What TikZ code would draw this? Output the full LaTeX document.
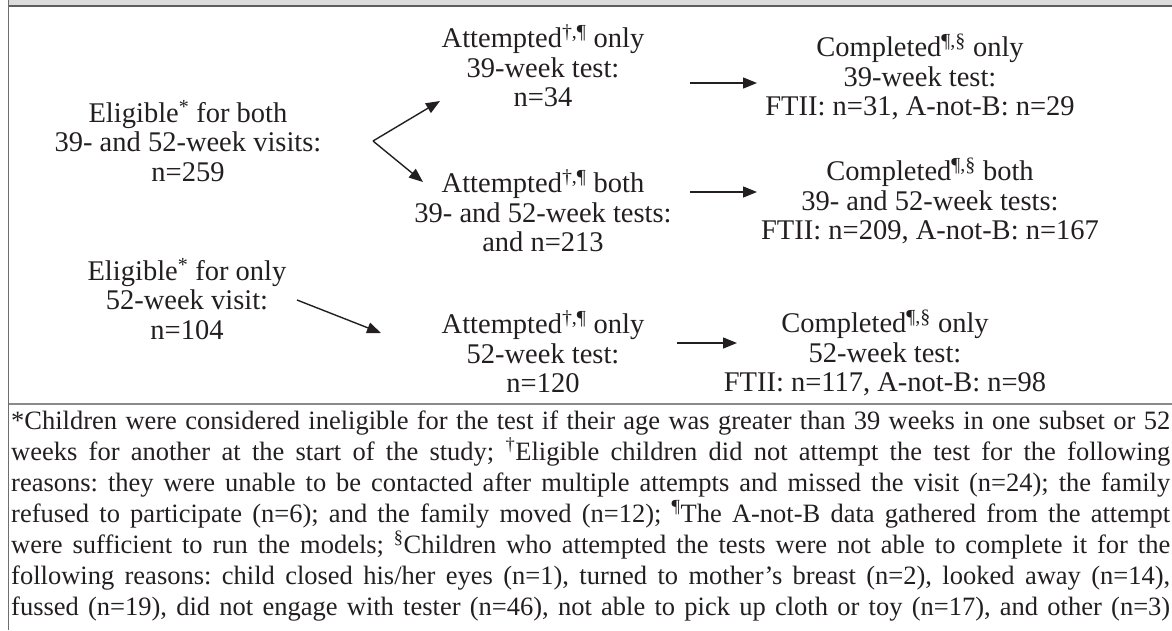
\documentclass[tikz,border=0pt]{standalone}
\usepackage{fontspec}
\setmainfont{Liberation Serif}
\usetikzlibrary{arrows.meta}
\frenchspacing
\definecolor{txt}{HTML}{231F20}
\definecolor{bandgray}{HTML}{DCDCDC}
\definecolor{darkline}{HTML}{5E5E5E}
\definecolor{framegray}{HTML}{6E6E6E}
\definecolor{sepgray}{HTML}{8A8A8A}
\begin{document}
\begin{tikzpicture}[x=1pt,y=-1pt,
  box/.style={align=center, inner sep=0pt, text=txt, font=\fontsize{28.5}{29.5}\selectfont},
  arr/.style={-{Triangle[length=14pt,width=11pt]}, line width=1.4pt, draw=txt}]
\useasboundingbox (0,0) rectangle (1172,630);
% frame
\fill[bandgray] (8.5,0) rectangle (1172,5);
\draw[line width=2pt, darkline] (8.5,5.8) -- (1172,5.8);
\draw[line width=1.5pt, framegray] (8.5,0) -- (8.5,630);
\draw[line width=2pt, sepgray] (8.5,403.5) -- (1172,403.5);
% nodes
\node[box] (e1) at (188,141) {Eligible\textsuperscript{*} for both\\39- and 52-week visits:\\n=259};
\node[box] (e2) at (187,299) {Eligible\textsuperscript{*} for only\\52-week visit:\\n=104};
\node[box] (a1) at (543,66) {Attempted\textsuperscript{†,¶} only\\39-week test:\\n=34};
\node[box] (a2) at (543,211) {Attempted\textsuperscript{†,¶} both\\39- and 52-week tests:\\and n=213};
\node[box] (a3) at (543,352) {Attempted\textsuperscript{†,¶} only\\52-week test:\\n=120};
\node[box] (c1) at (920,77) {Completed\textsuperscript{¶,§} only\\39-week test:\\FTII: n=31, A-not-B: n=29};
\node[box] (c2) at (930,201) {Completed\textsuperscript{¶,§} both\\39- and 52-week tests:\\FTII: n=209, A-not-B: n=167};
\node[box] (c3) at (885,353) {Completed\textsuperscript{¶,§} only\\52-week test:\\FTII: n=117, A-not-B: n=98};
% connector end points
\coordinate (fork) at (373,141);
\coordinate (a1in) at (440,101);
\coordinate (a2in) at (423,182);
\coordinate (e2out) at (297,300);
\coordinate (a3in) at (381,333);
\coordinate (a1out) at (690,83);
\coordinate (c1in) at (757,83);
\coordinate (a2out) at (690,192);
\coordinate (c2in) at (757,192);
\coordinate (a3out) at (677,343);
\coordinate (c3in) at (737,343);
\draw[arr] (fork) -- (a1in);
\draw[arr] (fork) -- (a2in);
\draw[arr] (e2out) -- (a3in);
\draw[arr] (a1out) -- (c1in);
\draw[arr] (a2out) -- (c2in);
\draw[arr] (a3out) -- (c3in);
% footnote
\node[anchor=base west, inner sep=0pt, text=txt] (fn) at (11,429) {\begin{minipage}[t]{1159pt}\fontsize{26.5}{31}\selectfont\frenchspacing
\hbox to\linewidth{*Children were considered ineligible for the test if their age was greater than 39 weeks in one subset or 52}
\hbox to\linewidth{weeks for another at the start of the study; \textsuperscript{†}Eligible children did not attempt the test for the following}
\hbox to\linewidth{reasons: they were unable to be contacted after multiple attempts and missed the visit (n=24); the family}
\hbox to\linewidth{refused to participate (n=6); and the family moved (n=12); \textsuperscript{¶}The A-not-B data gathered from the attempt}
\hbox to\linewidth{were sufficient to run the models; \textsuperscript{§}Children who attempted the tests were not able to complete it for the}
\hbox to\linewidth{following reasons: child closed his/her eyes (n=1), turned to mother's breast (n=2), looked away (n=14),}
\hbox to\linewidth{fussed (n=19), did not engage with tester (n=46), not able to pick up cloth or toy (n=17), and other (n=3)}
\end{minipage}};
\end{tikzpicture}
\end{document}
